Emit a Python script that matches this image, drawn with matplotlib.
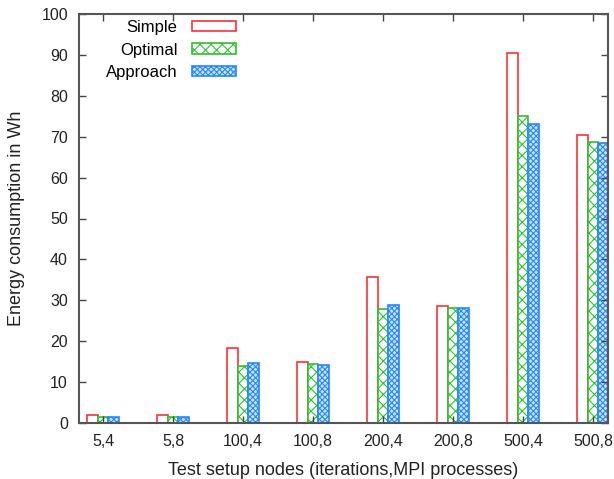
import numpy as np
import matplotlib
matplotlib.use("Agg")
from matplotlib import pyplot as plt

categories = ['5,4', '5,8', '100,4', '100,8', '200,4', '200,8', '500,4', '500,8']
simple = [1.9, 1.9, 18.3, 14.8, 35.8, 28.7, 90.4, 70.3]
optimal = [1.4, 1.4, 13.9, 14.4, 27.8, 28.0, 75.1, 68.7]
approach = [1.4, 1.4, 14.6, 14.2, 28.9, 28.0, 73.1, 68.4]

plt.rcParams['font.family'] = ['Liberation Sans', 'DejaVu Sans']
plt.rcParams['hatch.linewidth'] = 0.8

fig = plt.figure(figsize=(6.14, 4.79), dpi=100)
ax = fig.add_axes([79/614, 56/479, (608-79)/614, (423-14)/479])

x = np.arange(len(categories))
w = 0.15
ax.bar(x - w, simple, w, facecolor='white', edgecolor='#ff3030', linewidth=1.2, label='Simple')
ax.bar(x, optimal, w, facecolor='white', edgecolor='#30c030', linewidth=1.2, hatch='xxx', label='Optimal')
ax.bar(x + w, approach, w, facecolor='#cfe4ff', edgecolor='#2288ff', linewidth=1.2, hatch='xxxxxx', label='Approach')

ax.set_xlim(-0.343, 7.214)
ax.set_ylim(0, 100)
ax.set_xticks(x)
ax.set_xticklabels(categories)
ax.set_yticks(np.arange(0, 101, 10))
ax.tick_params(direction='in', length=5, width=1, color='#444444', labelsize=11.5,
               labelcolor='#222222', top=True, right=True, pad=8)
for s in ax.spines.values():
    s.set_color('#555555')
    s.set_linewidth(1.5)

ax.set_xlabel('Test setup nodes (iterations,MPI processes)', fontsize=13, color='#222222', labelpad=9)
ax.set_ylabel('Energy consumption in Wh', fontsize=13, color='#222222', labelpad=12)

ax.legend(loc='upper left', bbox_to_anchor=(0.022, 1.022), frameon=False, markerfirst=False,
          fontsize=12, handlelength=2.6, handleheight=0.6, labelspacing=0.45, handletextpad=0.9)

plt.savefig('out.png', dpi=100)
